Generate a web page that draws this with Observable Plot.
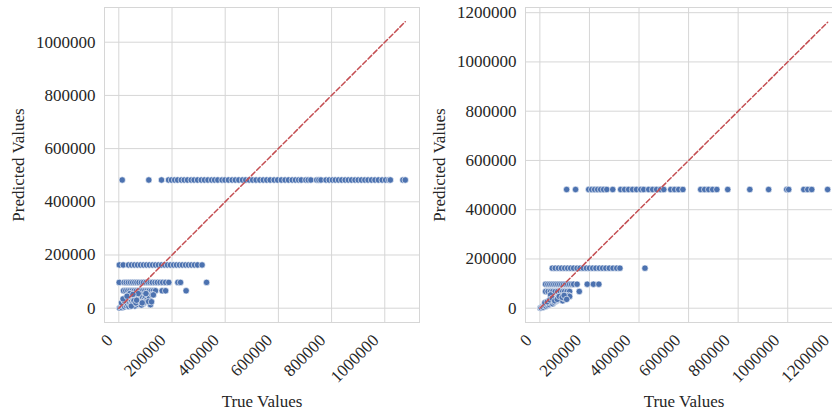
<!DOCTYPE html>
<html>
<head>
<meta charset="utf-8">
<script src="https://cdn.jsdelivr.net/npm/d3@7"></script>
<script src="https://cdn.jsdelivr.net/npm/@observablehq/plot@0.6"></script>
<style>
  html, body { margin: 0; padding: 0; background: white; overflow: hidden; }
  #wrap { position: relative; width: 832px; height: 415px; overflow: hidden; }
  #left { position: absolute; left: 0; top: 0; }
  #right { position: absolute; left: 420px; top: 0; }
</style>
</head>
<body>
<div id="wrap"><div id="left"></div><div id="right"></div></div>
<script>
// ---------- Left panel data ----------
const leftLevels = [482000, 162600, 97000, 65500];
const leftLevelTrue = [
  [12800, 112800, 160500, 187000, 198000, 210000, 221000, 235000, 246000, 258000, 272000, 283000, 296000,
   310000, 322000, 335000, 349000, 360000, 372000, 388000, 399000, 412000, 426000, 438000, 451000, 465000,
   477000, 490000, 503000, 516000, 530000, 543000, 556000, 569000, 584000, 597000, 611000, 625000, 638000,
   652000, 664000, 676000, 686000, 703000, 712000, 722000, 744000, 752000, 760000, 779000, 791000, 803000,
   814000, 826000, 838000, 851000, 863000, 875000, 888000, 900000, 912000, 925000, 937000, 950000, 963000,
   976000, 990000, 1003000, 1015000, 1021000, 1068000, 1077000],
  [2000, 16500, 36500, 47700, 59000, 70300, 81600, 92800, 104000, 115000, 127000, 138000, 149000, 160500,
   172000, 183000, 194000, 206000, 217000, 228000, 239000, 251000, 262000, 273000, 284500, 296000, 313000],
  [1500, 20000, 28000, 36000, 44000, 52000, 60000, 68000, 76000, 85000, 93000, 102000, 110000, 118000,
   126000, 136000, 145000, 155000, 165000, 176000, 188000, 222000, 232000, 330000],
  [17700, 26000, 34000, 42000, 50000, 58000, 66000, 74000, 82000, 90000, 98000, 106000, 114000, 122000,
   130000, 138000, 163000, 176000, 253000]
];
const leftClusterTrue = [3000, 8000, 12000, 15000, 18000, 22000, 25000, 28000, 30000, 33000, 36000, 38000, 40000,
  43000, 45000, 48000, 50000, 52000, 55000, 58000, 60000, 62000, 65000, 68000, 70000, 72000, 75000, 78000,
  80000, 83000, 86000, 90000, 93000, 96000, 100000, 105000, 110000, 115000, 119000, 125000, 130000,
  10000, 20000, 27000, 35000, 42000, 47000, 57000, 64000, 73000, 85000, 95000, 102000, 112000, 123000,
  16000, 31000, 53000, 67000, 88000];
const leftClusterPred = [1000, 4000, 2000, 8000, 12000, 5000, 18000, 10000, 25000, 15000, 30000, 6000, 22000,
  35000, 12000, 28000, 40000, 18000, 33000, 45000, 8000, 25000, 38000, 50000, 15000, 30000, 42000, 22000,
  35000, 50000, 28000, 40000, 18000, 33000, 45000, 30000, 50000, 38000, 13000, 50000, 50000,
  20000, 28000, 40000, 48000, 55000, 8000, 28000, 20000, 55000, 12000, 22000, 55000, 25000, 24000,
  35000, 45000, 52000, 30000, 20000];
const leftMax = 1077000;

// ---------- Right panel data ----------
const rightLevels = [482000, 162600, 97500, 68000];
const rightLevelTrue = [
  [108000, 144000, 197000, 209000, 221000, 233000, 245000, 257000, 270000, 294000, 326000, 342000, 358000,
   374000, 390000, 407000, 419000, 439000, 455000, 471000, 487000, 500000, 528000, 544000, 560000, 577000,
   649000, 665000, 681000, 697000, 714000, 758000, 847000, 923000, 996000, 1004000, 1065000, 1081000,
   1097000, 1161000],
  [50000, 62000, 75000, 87000, 100000, 112000, 124000, 136000, 150000, 162000, 175000, 188000, 200000,
   213000, 226000, 240000, 253000, 266000, 280000, 295000, 310000, 323000, 424000],
  [23000, 32000, 40000, 48000, 56000, 64000, 72000, 80000, 88000, 96000, 104000, 112000, 120000, 128000,
   136000, 150000, 191000, 216000, 238000],
  [23000, 33000, 43000, 52000, 62000, 72000, 82000, 92000, 100000, 110000, 120000, 159000]
];
const rightClusterTrue = [1000, 3000, 5000, 10000, 14000, 18000, 22000, 25000, 28000, 32000, 35000, 38000,
  42000, 43000, 45000, 48000, 52000, 55000, 58000, 62000, 65000, 68000, 72000, 75000, 80000, 85000, 88000,
  92000, 96000, 100000, 105000, 110000, 115000, 120000,
  20000, 30000, 40000, 50000, 60000, 70000, 78000, 90000, 98000, 108000];
const rightClusterPred = [500, 1000, 2000, 6000, 4000, 10000, 14000, 8000, 18000, 12000, 22000, 15000,
  25000, 54000, 20000, 30000, 18000, 34000, 24000, 38000, 28000, 42000, 32000, 46000, 36000, 50000, 40000,
  30000, 45000, 38000, 50000, 42000, 52000, 48000,
  22000, 26000, 34000, 40000, 30000, 36000, 48000, 44000, 52000, 36000];
const rightMax = 1161000;

// ---------- Ticks ----------
const leftXTicks = [0, 200000, 400000, 600000, 800000, 1000000];
const leftYTicks = [0, 200000, 400000, 600000, 800000, 1000000];
const rightXTicks = [0, 200000, 400000, 600000, 800000, 1000000, 1200000];
const rightYTicks = [0, 200000, 400000, 600000, 800000, 1000000, 1200000];
const xLabel = "True Values";
const yLabel = "Predicted Values";

function buildPoints(levels, levelTrue, clusterTrue, clusterPred) {
  const pts = [];
  levels.forEach((lv, i) => levelTrue[i].forEach(t => pts.push({t, p: lv})));
  clusterTrue.forEach((t, i) => pts.push({t, p: clusterPred[i]}));
  return pts;
}

const FONT = "'Liberation Serif', 'Times New Roman', serif";
const GRID = "#d6d6d6";
const fmt = d => String(d);

function panel({width, marginLeft, marginRight, domainX, domainY, xTicks, yTicks, points, maxVal, tickDx}) {
  const diag = [{t: 0, p: 0}, {t: maxVal, p: maxVal}];
  return Plot.plot({
    width, height: 415,
    marginLeft, marginRight, marginTop: 7, marginBottom: 93,
    style: {fontFamily: FONT, fontSize: "17px", color: "#262626", background: "white", maxWidth: "none"},
    x: {domain: domainX},
    y: {domain: domainY},
    marks: [
      Plot.gridX(xTicks, {stroke: GRID, strokeOpacity: 1, strokeWidth: 1}),
      Plot.gridY(yTicks, {stroke: GRID, strokeOpacity: 1, strokeWidth: 1}),
      Plot.frame({stroke: GRID, strokeWidth: 1}),
      Plot.axisX(xTicks, {tickSize: 0, tickPadding: 15, tickRotate: -45, dx: tickDx, tickFormat: fmt,
        fontSize: 17, label: xLabel, labelAnchor: "center", labelOffset: 84, labelArrow: "none"}),
      Plot.axisY(yTicks, {tickSize: 0, tickPadding: 9, tickFormat: fmt, fontSize: 17,
        label: yLabel, labelAnchor: "center", labelOffset: 93, labelArrow: "none"}),
      Plot.dot(points, {x: "t", y: "p", r: 3.2, fill: "#4c72b0", stroke: "white", strokeWidth: 0.6}),
      Plot.line(diag, {x: "t", y: "p", stroke: "#c44e52", strokeWidth: 1.5, strokeDasharray: "5,2.5"})
    ]
  });
}

document.getElementById("left").append(panel({
  width: 420, marginLeft: 104, marginRight: 1,
  domainX: [-53800, 1130500], domainY: [-53800, 1130500],
  xTicks: leftXTicks, yTicks: leftYTicks,
  points: buildPoints(leftLevels, leftLevelTrue, leftClusterTrue, leftClusterPred),
  maxVal: leftMax, tickDx: -9
}));

document.getElementById("right").append(panel({
  width: 422, marginLeft: 105, marginRight: 0,
  domainX: [-58000, 1221000], domainY: [-58000, 1221000],
  xTicks: rightXTicks, yTicks: rightYTicks,
  points: buildPoints(rightLevels, rightLevelTrue, rightClusterTrue, rightClusterPred),
  maxVal: rightMax, tickDx: -11
}));
</script>
</body>
</html>
